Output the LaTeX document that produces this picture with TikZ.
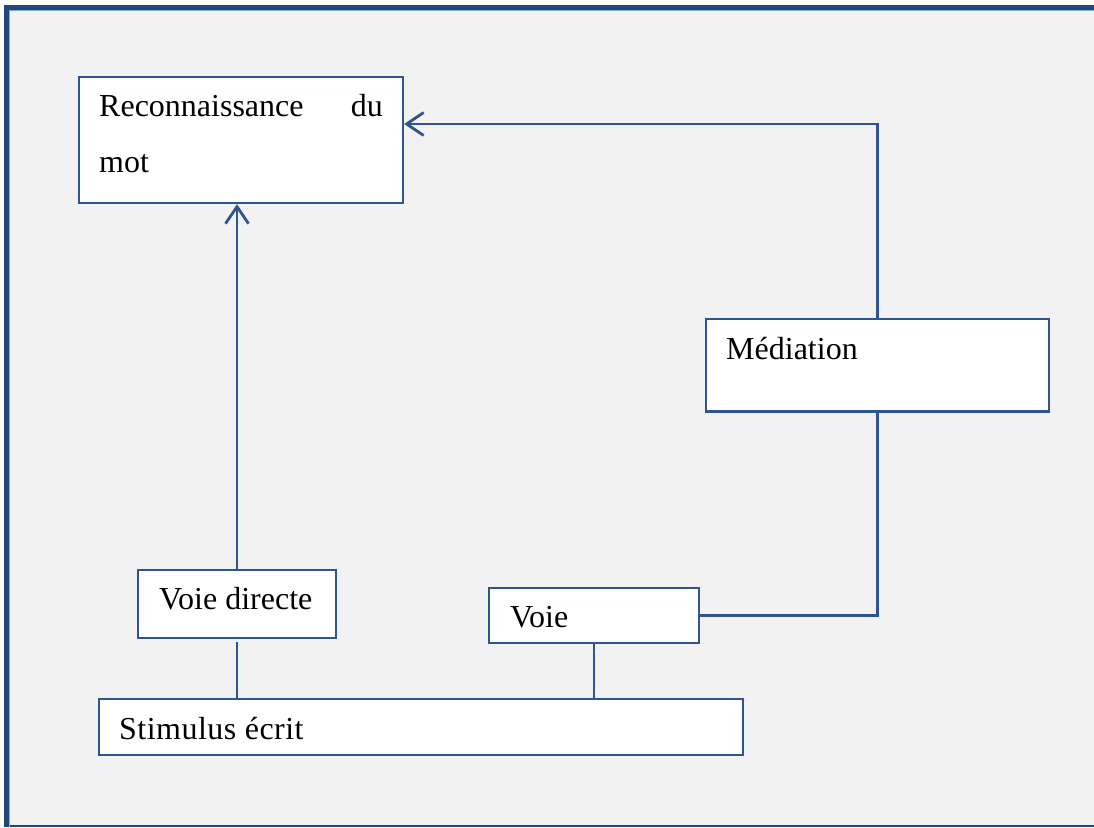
\documentclass[tikz,border=0pt]{standalone}
\usepackage{fontspec}
\setmainfont{Liberation Serif}
\usetikzlibrary{arrows.meta}
\definecolor{framebl}{RGB}{31,73,125}
\definecolor{framelt}{RGB}{143,168,200}
\definecolor{linebl}{RGB}{47,84,143}
\definecolor{panel}{RGB}{242,242,242}
\tikzset{
  box/.style={draw=linebl, line width=2.3pt, fill=white, rectangle, inner sep=0pt},
  lbl/.style={inner sep=0pt, font=\fontsize{32}{38}\selectfont, text=black},
  link/.style={draw=linebl, line width=2.8pt},
  arr/.style={link, -{Straight Barb[length=17pt, width=23pt, line width=2.8pt]}}
}
\begin{document}
\begin{tikzpicture}[x=1pt, y=-1pt]
\useasboundingbox (0,0) rectangle (1094,827);
% panel and its frame
\fill[panel] (4,5) rectangle (1094,827);
\fill[framebl] (4,5) rectangle (9,827);
\fill[framebl] (4,5) rectangle (1094,10);
\fill[framebl] (4,824.5) rectangle (1094,827);
\draw[framelt, line width=0.8pt] (9.4,827) -- (9.4,10.4) -- (1094,10.4);
% boxes
\node[box, minimum width=324pt, minimum height=126pt] (reco) at (241,140) {};
\node[box, minimum width=343pt, minimum height=92.5pt] (med) at (877.5,365.2) {};
\node[box, minimum width=198pt, minimum height=68pt] (vd) at (237,604) {};
\node[box, minimum width=210pt, minimum height=55pt] (voie) at (594,615.5) {};
\node[box, minimum width=644pt, minimum height=56pt] (stim) at (421,727) {};
% texts
\node[lbl, anchor=base west] (t1) at (99,116) {Reconnaissance};
\node[lbl, anchor=base east] (t2) at (383,116) {du};
\node[lbl, anchor=base west] (t3) at (99,172) {mot};
\node[lbl, anchor=base west] (t4) at (726,359) {Médiation};
\node[lbl, anchor=base west] (t5) at (159,609) {Voie directe};
\node[lbl, anchor=base west] (t6) at (510,627) {Voie};
\node[lbl, anchor=base west] (t7) at (119,739) {\addfontfeature{LetterSpace=1.5}Stimulus écrit};
% connectors
\draw[arr] (vd.north) -- (vd.north |- reco.south);
\draw[arr] (med.north) |- ([yshift=16pt]reco.east);
\draw[link] (med.south) |- (voie.east);
\draw[link] (voie.south) -- (voie.south |- stim.north);
\draw[link, shorten <=3pt] (vd.south) -- (vd.south |- stim.north);
\end{tikzpicture}
\end{document}
